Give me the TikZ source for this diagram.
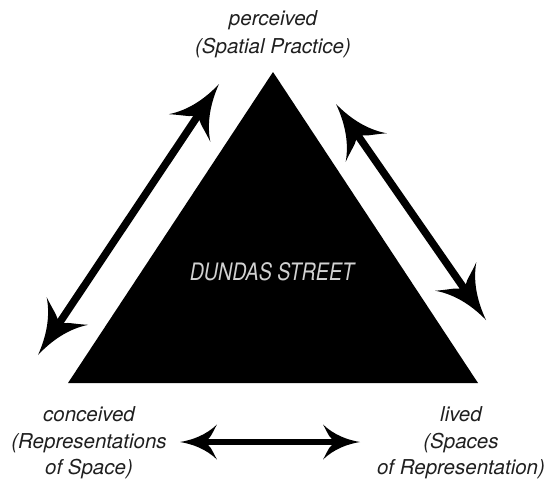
\documentclass[tikz,border=0pt]{standalone}
\usepackage{fontspec}
\setmainfont{TeX Gyre Heros}
\usetikzlibrary{arrows.meta}

\pgfdeclarearrow{
  name=BigBarb,
  setup code={
    \pgfarrowssettipend{0pt}
    \pgfarrowssetlineend{-38pt}
    \pgfarrowssetbackend{-53pt}
  },
  drawing code={
    \pgfpathmoveto{\pgfqpoint{0pt}{0pt}}
    \pgfpathcurveto{\pgfqpoint{-18pt}{3pt}}{\pgfqpoint{-38pt}{10pt}}{\pgfqpoint{-53pt}{25pt}}
    \pgfpathcurveto{\pgfqpoint{-47pt}{15pt}}{\pgfqpoint{-44pt}{7pt}}{\pgfqpoint{-41pt}{4pt}}
    \pgfpathlineto{\pgfqpoint{-41pt}{-4pt}}
    \pgfpathcurveto{\pgfqpoint{-44pt}{-7pt}}{\pgfqpoint{-47pt}{-15pt}}{\pgfqpoint{-53pt}{-25pt}}
    \pgfpathcurveto{\pgfqpoint{-38pt}{-10pt}}{\pgfqpoint{-18pt}{-3pt}}{\pgfqpoint{0pt}{0pt}}
    \pgfpathclose
    \pgfusepathqfill
  }
}

\pgfdeclarearrow{
  name=SmallBarb,
  setup code={
    \pgfarrowssettipend{0pt}
    \pgfarrowssetlineend{-26pt}
    \pgfarrowssetbackend{-37pt}
  },
  drawing code={
    \pgfpathmoveto{\pgfqpoint{0pt}{0pt}}
    \pgfpathcurveto{\pgfqpoint{-12.5pt}{2pt}}{\pgfqpoint{-26pt}{7pt}}{\pgfqpoint{-37pt}{17.5pt}}
    \pgfpathcurveto{\pgfqpoint{-33pt}{10.5pt}}{\pgfqpoint{-31pt}{5pt}}{\pgfqpoint{-28.5pt}{3.5pt}}
    \pgfpathlineto{\pgfqpoint{-28.5pt}{-3.5pt}}
    \pgfpathcurveto{\pgfqpoint{-31pt}{-5pt}}{\pgfqpoint{-33pt}{-10.5pt}}{\pgfqpoint{-37pt}{-17.5pt}}
    \pgfpathcurveto{\pgfqpoint{-26pt}{-7pt}}{\pgfqpoint{-12.5pt}{-2pt}}{\pgfqpoint{0pt}{0pt}}
    \pgfpathclose
    \pgfusepathqfill
  }
}

\begin{document}
\begin{tikzpicture}[x=1pt,y=-1pt,
  lab/.style={font=\fontsize{20.5}{24}\selectfont\itshape, anchor=base, inner sep=0pt, text=black!88},
  bigarrow/.style={line width=7.5pt, BigBarb-BigBarb},
  smallarrow/.style={line width=6.5pt, SmallBarb-SmallBarb}]
\useasboundingbox (0,0) rectangle (546,480);

% triangle
\coordinate (T1) at (273,72);
\coordinate (T2) at (68,383);
\coordinate (T3) at (478,383);
\fill[black] (T1) -- (T2) -- (T3) -- cycle;

\node[font=\fontsize{24}{28}\selectfont\itshape, text=black!18, inner sep=0pt] (ds) at (272,272) {\scalebox{0.82}[1]{DUNDAS STREET}};

% labels
\node[lab] (per1) at (273,25) {perceived};
\node[lab] (per2) at (273,53) {(Spatial Practice)};
\node[lab] (con1) at (89,421) {conceived};
\node[lab] (con2) at (89,448) {(Representations};
\node[lab] (con3) at (89,474) {of Space)};
\node[lab] (liv1) at (461,421) {lived};
\node[lab] (liv2) at (461,448) {(Spaces};
\node[lab] (liv3) at (461,474) {of Representation)};

% arrows
\coordinate (A1) at (219,84);
\coordinate (A2) at (38,355);
\coordinate (B1) at (336,104);
\coordinate (B2) at (486,320);
\coordinate (C1) at (180,442);
\coordinate (C2) at (360,442);
\draw[bigarrow] (A1) -- (A2);
\draw[bigarrow] (B1) -- (B2);
\draw[smallarrow] (C1) -- (C2);
\end{tikzpicture}
\end{document}
